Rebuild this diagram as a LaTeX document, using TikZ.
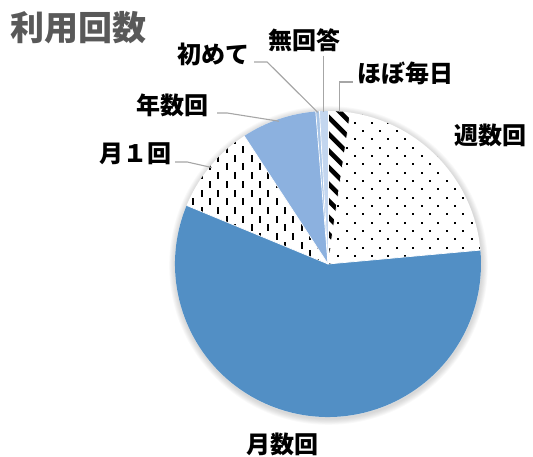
\documentclass[tikz,border=0pt]{standalone}
\usepackage{fontspec}
\setmainfont{Noto Sans CJK JP}
\usetikzlibrary{calc}
\definecolor{mblue}{HTML}{528FC5}
\definecolor{nblue}{HTML}{8CB1DF}
\definecolor{hblue}{HTML}{A7C4E6}
\definecolor{ublue}{HTML}{C3D6EF}
\definecolor{leadergray}{HTML}{A6A6A6}
\definecolor{titlegray}{HTML}{595959}
\begin{document}
\begin{tikzpicture}[x=1pt,y=1pt,
  lbl/.style={font=\bfseries\fontsize{24}{24}\selectfont, inner sep=0pt, text=black},
  ttlstyle/.style={font=\bfseries\fontsize{34}{34}\selectfont, inner sep=0pt, text=titlegray},
  leader/.style={draw=leadergray, line width=1.1pt},
  sliceedge/.style={draw=white, line width=0.7pt}]
\useasboundingbox (0,0) rectangle (533,457);
\coordinate (c) at (328,193);
\def\R{153}
% soft shadow
\foreach \k in {1,...,7}{
  \fill[black, opacity=0.022] ($(c)+(0.5,-1.5)$) circle ({\R+\k*0.9});
}
% solid slices
\fill[white] (c) circle (\R);
\fill[mblue] (c) -- ++(157.5:\R) arc[start angle=157.5, end angle=365.2, radius=\R] -- cycle;
\fill[nblue] (c) -- ++(94.6:\R) arc[start angle=94.6, end angle=123.2, radius=\R] -- cycle;
\fill[hblue] (c) -- ++(93.2:\R) arc[start angle=93.2, end angle=94.6, radius=\R] -- cycle;
\fill[ublue] (c) -- ++(90:\R) arc[start angle=90, end angle=93.2, radius=\R] -- cycle;
% weekly: dots
\begin{scope}
  \clip (c) -- ++(5.2:\R) arc[start angle=5.2, end angle=81.6, radius=\R] -- cycle;
  \foreach \i in {-4,...,6}{
    \foreach \j in {-3,...,7}{
      \fill[black] ({388.3+16.67*\i-1},{301-16.67*\j-1}) rectangle ++(2,2);
      \fill[black] ({380+16.67*\i-1},{292.67-16.67*\j-1}) rectangle ++(2,2);
    }
  }
\end{scope}
% once a month: vertical dashes
\begin{scope}
  \clip (c) -- ++(123.2:\R) arc[start angle=123.2, end angle=157.5, radius=\R] -- cycle;
  \foreach \i in {-4,...,6}{
    \foreach \k in {-7,...,7}{
      \fill[black] ({235+16.67*\i-1},{281.3+17.4*\k-3.5}) rectangle ++(2,7);
      \fill[black] ({243.33+16.67*\i-1},{290+17.4*\k-3.5}) rectangle ++(2,7);
    }
  }
\end{scope}
% almost daily: wide diagonal stripes
\begin{scope}
  \clip (c) -- ++(81.6:\R) arc[start angle=81.6, end angle=90, radius=\R] -- cycle;
  \foreach \k in {-2,...,11}{
    \draw[black, line width=4.6pt] ({328-40},{340.3-16.67*\k+40}) -- ({328+40},{340.3-16.67*\k-40});
  }
\end{scope}
% white separators
\foreach \a in {5.2,81.6,90,93.2,94.6,123.2,157.5}{
  \draw[sliceedge] (c) -- ++(\a:\R);
}
% labels
\node[ttlstyle] (ttl) at (78.5,429.5) {利用回数};
\node[lbl] (shu) at (490,322) {週数回};
\node[lbl] (getsu) at (282.5,12.5) {月数回};
\node[lbl] (m1) at (135.5,303) {月１回};
\node[lbl] (nen) at (172,352) {年数回};
\node[lbl] (haji) at (213.5,403) {初めて};
\node[lbl] (mu) at (304.5,417) {無回答};
\node[lbl] (hobo) at (405,384) {ほぼ毎日};
% leader end points
\coordinate (m1e) at ($(c)+(140.3:151)$);
\coordinate (nene) at ($(c)+(109:151)$);
\coordinate (hajie) at ($(c)+(93.9:152)$);
\coordinate (mue) at ($(c)+(91.8:152)$);
\coordinate (hoboe) at ($(c)+(85.5:152)$);
% leaders
\draw[leader] ([shift={(3.5,-8)}]m1.east) -- ++(12,0) -- (m1e);
\draw[leader] ([shift={(9,-8)}]nen.east) -- ++(10,0) -- (nene);
\draw[leader] ([shift={(4.5,-8)}]haji.east) -- ++(13,0) -- (hajie);
\draw[leader] ([yshift=-4pt]mue |- mu.south) -- (mue);
\draw[leader] ([shift={(-4,-9)}]hobo.west) -| (hoboe);
\end{tikzpicture}
\end{document}
